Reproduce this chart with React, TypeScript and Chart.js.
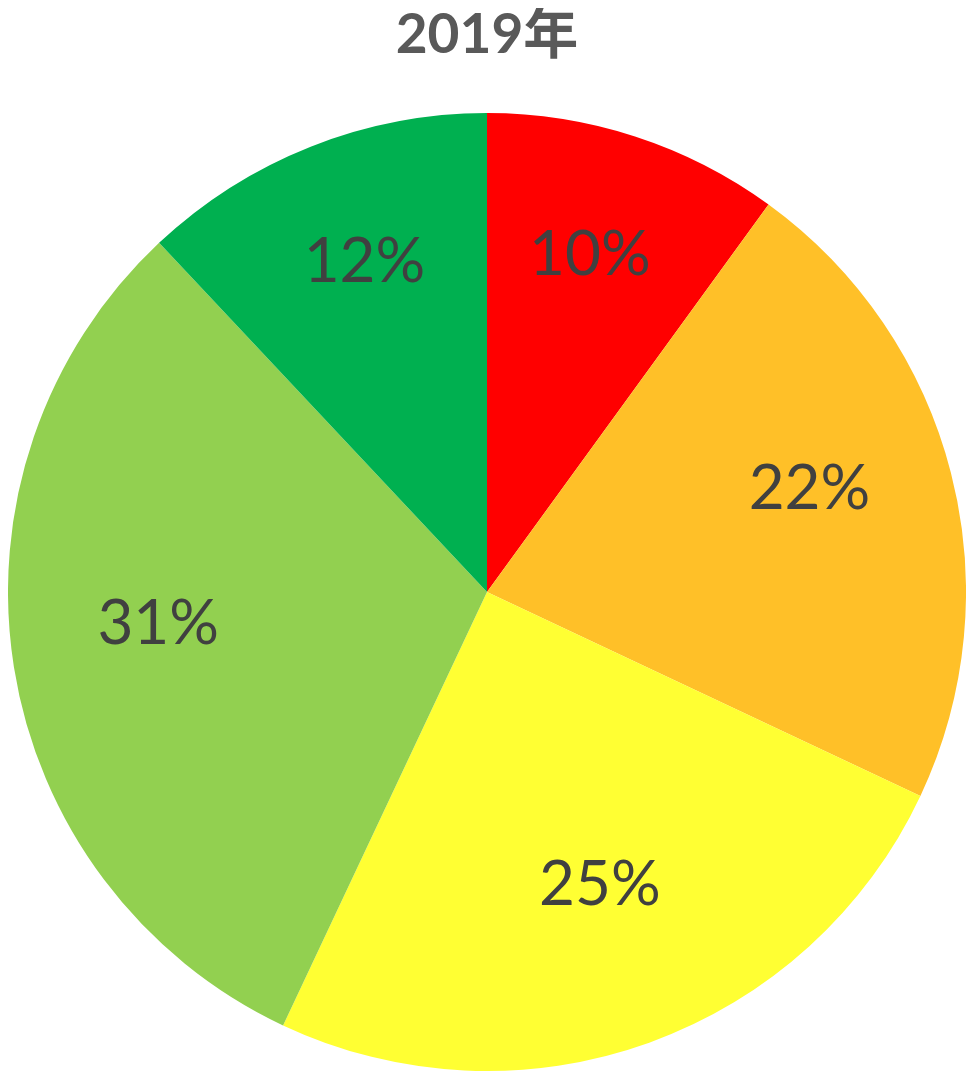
import React, { useEffect, useRef } from "react";
import { Chart, registerables } from "chart.js";

Chart.register(...registerables);

const title = "2019年";
const categories = ["A", "B", "C", "D", "E"];
const values = [10, 22, 25, 31, 12];
const colors = ["#FF0000", "#FFC028", "#FFFF33", "#92D050", "#00B050"];

const labelPlugin = {
  id: "sliceLabels",
  afterDatasetsDraw(chart: any) {
    const ctx = chart.ctx;
    const meta = chart.getDatasetMeta(0);
    const total = values.reduce((a, b) => a + b, 0);
    ctx.save();
    ctx.font = "62px Lato, 'Open Sans', sans-serif";
    ctx.fillStyle = "#404040";
    ctx.textAlign = "center";
    ctx.textBaseline = "middle";
    meta.data.forEach((arc: any, i: number) => {
      const p = arc.getProps(["x", "y", "startAngle", "endAngle", "outerRadius"], true);
      const mid = (p.startAngle + p.endAngle) / 2;
      const r = p.outerRadius * 0.695;
      const x = p.x + Math.cos(mid) * r;
      const y = p.y - 20 + Math.sin(mid) * r;
      ctx.fillText(Math.round((values[i] / total) * 100) + "%", x, y);
    });
    ctx.restore();
  },
};

export default function App() {
  const ref = useRef<HTMLCanvasElement>(null);
  useEffect(() => {
    if (!ref.current) return;
    const chart = new Chart(ref.current, {
      type: "pie",
      data: {
        labels: categories,
        datasets: [
          {
            data: values,
            backgroundColor: colors,
            borderWidth: 0,
          },
        ],
      },
      options: {
        animation: false,
        responsive: true,
        maintainAspectRatio: false,
        layout: { padding: 0 },
        plugins: {
          legend: { display: false },
          tooltip: { enabled: false },
          title: {
            display: true,
            text: title,
            color: "#595959",
            font: { family: "Lato, 'Noto Sans CJK SC', sans-serif", size: 55, weight: "bold", lineHeight: 1 },
            padding: { top: 0, bottom: 49 },
          },
        },
      },
      plugins: [labelPlugin],
    });
    return () => chart.destroy();
  }, []);
  return (
    <div style={{ width: 958, height: 1064, position: "relative" }}>
      <canvas ref={ref} />
    </div>
  );
}
